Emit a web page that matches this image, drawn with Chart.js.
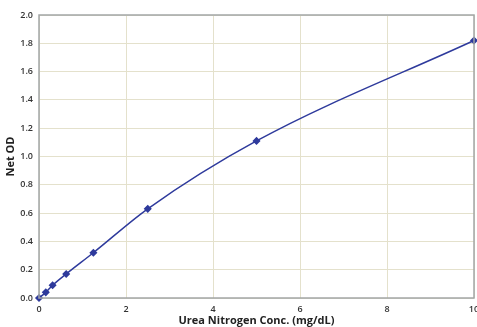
<!DOCTYPE html>
<html>
<head>
<meta charset="utf-8">
<script src="https://cdn.jsdelivr.net/npm/chart.js@4.4.0/dist/chart.umd.min.js"></script>
<style>
  html, body { margin: 0; padding: 0; background: #fff; }
  #wrap { width: 477px; height: 327px; }
</style>
</head>
<body>
<div id="wrap"><canvas id="ureaChart"></canvas></div>
<script>
// standard curve
const conc = [0, 0.156, 0.3125, 0.625, 1.25, 2.5, 5, 10]
const netOD = [0.0, 0.04, 0.09, 0.17, 0.32, 0.63, 1.11, 1.82]
const xTicks = [0, 2, 4, 6, 8, 10]
const yTicks = [0, 0.2, 0.4, 0.6, 0.8, 1.0, 1.2, 1.4, 1.6, 1.8, 2.0]

const gridColor = '#e4e1cc'
const axisColor = '#a3a6a6'
const lineColor = '#2e3a9c'
const font = "'Open Sans', 'Liberation Sans', sans-serif"

// gray box around the plot area
const frame = {
  id: 'frame',
  afterDraw(chart) {
    const { ctx, chartArea: a } = chart
    ctx.save()
    ctx.strokeStyle = axisColor
    ctx.lineWidth = 1.5
    ctx.strokeRect(a.left, a.top, a.right - a.left, a.bottom - a.top)
    ctx.restore()
  }
}

const ctx = document.getElementById('ureaChart')
new Chart(ctx, {
  type: 'scatter',
  data: {
    datasets: [{
      data: conc.map((x, i) => ({ x: x, y: netOD[i] })),
      showLine: true,
      clip: false,
      borderColor: lineColor,
      backgroundColor: lineColor,
      borderWidth: 1.5,
      pointStyle: 'rectRot',
      pointRadius: 3,
      pointHoverRadius: 3,
      cubicInterpolationMode: 'monotone'
    }]
  },
  options: {
    responsive: true,
    maintainAspectRatio: false,
    animation: false,
    layout: { autoPadding: false, padding: { top: 15, right: 3, left: 4, bottom: 0 } },
    plugins: {
      legend: { display: false },
      tooltip: { enabled: false }
    },
    scales: {
      x: {
        type: 'linear',
        min: 0,
        max: 10,
        afterBuildTicks: s => { s.ticks = xTicks.map(v => ({ value: v })) },
        afterFit: s => { s.height = 29; s.paddingRight = 0; s.paddingLeft = 0 },
        grid: { color: gridColor, drawTicks: false },
        border: { display: false },
        ticks: {
          padding: 6,
          color: '#333',
          font: { family: font, size: 9, weight: '600' },
          maxRotation: 0
        },
        title: {
          display: true,
          text: 'Urea Nitrogen Conc. (mg/dL)',
          color: '#222',
          padding: { top: 1, bottom: 0 },
          font: { family: font, size: 11, weight: 'bold' }
        }
      },
      y: {
        min: 0,
        max: 2,
        afterBuildTicks: s => { s.ticks = yTicks.map(v => ({ value: v })) },
        afterFit: s => { s.width = 35 },
        grid: { color: gridColor, drawTicks: false },
        border: { display: false },
        ticks: {
          padding: 6,
          color: '#333',
          font: { family: font, size: 9, weight: '600' },
          callback: v => v.toFixed(1)
        },
        title: {
          display: true,
          text: 'Net OD',
          color: '#222',
          padding: { top: 0, bottom: 2 },
          font: { family: font, size: 11, weight: 'bold' }
        }
      }
    }
  },
  plugins: [frame]
})
</script>
</body>
</html>
